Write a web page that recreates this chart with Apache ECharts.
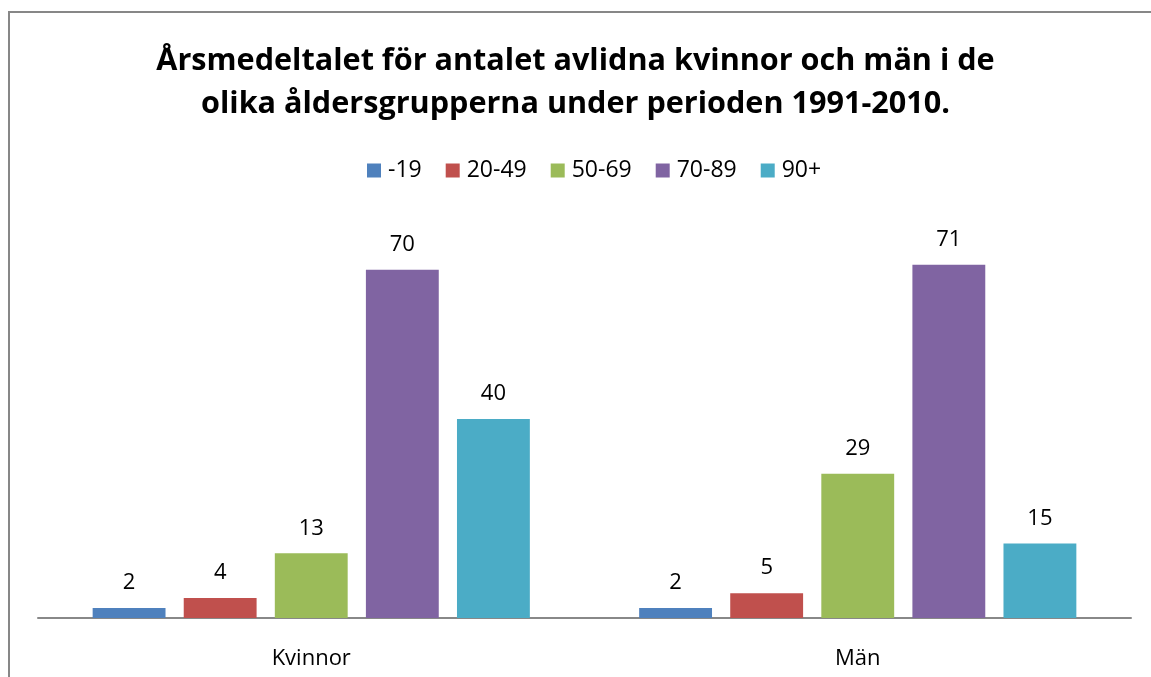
<!DOCTYPE html>
<html>
<head>
<meta charset="utf-8">
<script src="https://cdn.jsdelivr.net/npm/echarts@6/dist/echarts.min.js"></script>
<style>
  html, body { margin: 0; padding: 0; background: #fff; }
  #chart { width: 1151px; height: 677px; }
</style>
</head>
<body>
<div id="chart"></div>
<script>
const categories = ['Kvinnor', 'Män']
const groups = ['-19', '20-49', '50-69', '70-89', '90+']
const colors = ['#4f81bd', '#c0504d', '#9bbb59', '#8064a2', '#4bacc6']
const values = [
  [2, 2],
  [4, 5],
  [13, 29],
  [70, 71],
  [40, 15],
]

const chart = echarts.init(document.getElementById('chart'))

chart.setOption({
  animation: false,
  textStyle: { fontFamily: 'Open Sans' },
  title: {
    text: 'Årsmedeltalet för antalet avlidna kvinnor och män i de\nolika åldersgrupperna under perioden 1991-2010.',
    left: 'center',
    top: 35,
    textStyle: {
      fontFamily: 'Open Sans',
      fontWeight: 'bold',
      fontSize: 30.6,
      lineHeight: 43,
      color: '#000',
    },
  },
  legend: {
    top: 154,
    left: 362,
    itemWidth: 14,
    itemHeight: 14,
    itemGap: 24,
    icon: 'rect',
    textStyle: { fontSize: 23, color: '#000', padding: [0, 0, 0, 2] },
    data: groups,
  },
  graphic: [
    {
      type: 'rect',
      shape: { x: 9, y: 12, width: 1160, height: 700 },
      style: { fill: 'none', stroke: '#878787', lineWidth: 2 },
      silent: true,
    },
  ],
  grid: {
    left: 38,
    right: 20,
    top: 220,
    bottom: 59,
    containLabel: false,
  },
  xAxis: {
    type: 'category',
    data: categories,
    axisLine: { show: true, lineStyle: { color: '#888', width: 2 } },
    axisTick: { show: false },
    axisLabel: { fontSize: 22, color: '#000', margin: 30 },
  },
  yAxis: {
    type: 'value',
    min: 0,
    max: 80,
    show: false,
    splitLine: { show: false },
  },
  series: groups.map((name, i) => ({
    name,
    type: 'bar',
    data: values[i],
    barGap: '25%',
    barCategoryGap: '20%',
    itemStyle: { color: colors[i] },
    label: {
      show: true,
      position: 'top',
      distance: 14,
      fontSize: 22,
      color: '#000',
    },
  })),
})
</script>
</body>
</html>
